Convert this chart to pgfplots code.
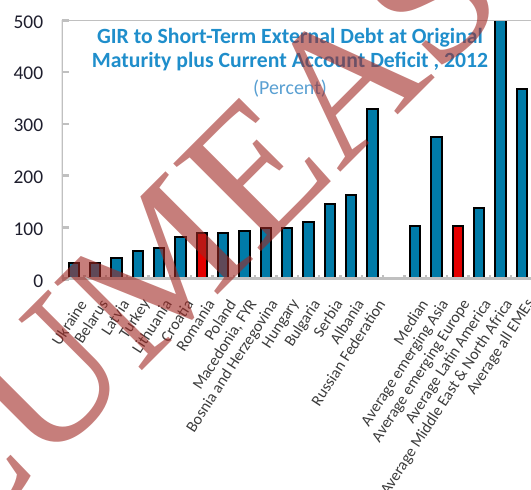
\documentclass[border=0pt]{standalone}
\usepackage{fontspec}
\setmainfont{Carlito}
\newfontfamily\wmfont{Liberation Serif}
\usepackage{pgfplots}
\usepackage{pgfplotstable}
\pgfplotsset{compat=1.18}
\definecolor{barblue}{RGB}{0,123,168}
\definecolor{barred}{RGB}{228,0,0}
\definecolor{titleblue}{RGB}{31,142,203}
\definecolor{pctblue}{RGB}{90,160,210}
\definecolor{axgray}{RGB}{192,192,192}
\definecolor{ytickcol}{RGB}{30,30,45}
\definecolor{xtickcol}{RGB}{60,60,60}
\definecolor{wmred}{RGB}{160,40,35}

\pgfplotstableread{
x y
0 32.0
1 32.0
2 41.7
3 54.6
4 61.0
5 82.2
7 90.0
8 93.2
9 99.6
10 99.6
11 110.6
12 144.8
13 162.2
14 329.3
16 102.9
17 274.7
19 137.0
20 600.0
21 367.4
}\bluedata

\pgfplotstableread{
x y
6 90.0
18 102.9
}\reddata

\begin{document}
\begin{tikzpicture}
\path[use as bounding box] (0bp,0bp) rectangle (531bp,-490bp);
\begin{axis}[
  at={(61.7bp,-279.3bp)}, anchor=south west,
  scale only axis, width=472.9bp, height=259bp,
  xmin=-0.57, xmax=21.6, ymin=0, ymax=500,
  axis line style={draw=none},
  ybar, bar width=10.5bp,
  /pgf/number format/assume math mode=true,
  ytick={0,100,...,500},
  xtick={0,...,21},
  xticklabels={Ukraine,Belarus,Latvia,Turkey,Lithuania,Croatia,Romania,Poland,{Macedonia, FYR},Bosnia and Herzegovina,Hungary,Bulgaria,Serbia,Albania,Russian Federation,{},Median,Average emerging Asia,Average emerging Europe,Average Latin America,{Average Middle East \& North Africa},Average all EMEs},
  minor xtick={-0.5,0.5,...,21.5},
  xtick pos=bottom, ytick pos=left,
  tick align=inside,
  major tick length=7bp,
  minor tick length=4.5bp,
  ytick style={axgray, line width=2.5bp},
  major x tick style={draw=none},
  minor x tick style={axgray, line width=2.5bp},
  yticklabel style={font=\fontsize{19.5}{20}\selectfont, text=ytickcol, anchor=east, inner sep=0pt, xshift=-18.4bp, yshift=-1.5bp},
  xticklabel style={font=\fontsize{16}{16}\selectfont, text=xtickcol, xshift=9bp, yshift=-22bp, rotate=57, anchor=east, inner sep=0pt},
  clip=true,
]
\addplot[draw=black, line width=2bp, fill=barblue, bar shift=0pt] table[x=x,y=y] {\bluedata};
\addplot[draw=black, line width=2bp, fill=barred, bar shift=0pt] table[x=x,y=y] {\reddata};
\draw[axgray, line width=2bp] (rel axis cs:0,1) -- (rel axis cs:1,1);
\draw[axgray, line width=3.3bp] (rel axis cs:0,0) -- (rel axis cs:0,1);
\draw[axgray, line width=4bp] (rel axis cs:0,0) -- (rel axis cs:1,0);
\end{axis}
\node[font=\bfseries\fontsize{21.8}{24.7}\selectfont, text=titleblue, align=center] at (290bp,-49.7bp) {GIR to Short-Term External Debt at Original\\Maturity plus Current Account Deficit , 2012};
\node[font=\fontsize{20}{20}\selectfont, text=pctblue] at (290bp,-88.7bp) {(Percent)};
\node[overlay, rotate=45, text=wmred, opacity=0.6, font=\wmfont\fontsize{190}{190}\selectfont, inner sep=0pt] at (188bp,-238bp) {CUMEAS};
\end{tikzpicture}
\end{document}
